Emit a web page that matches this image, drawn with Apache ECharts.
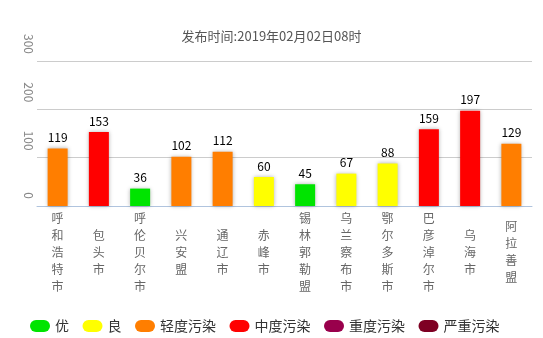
<!DOCTYPE html>
<html><head><meta charset="utf-8">
<script src="https://cdn.jsdelivr.net/npm/echarts@6/dist/echarts.min.js"></script>
<style>html,body{margin:0;padding:0;background:#fff}#c{width:543px;height:338px}</style>
</head><body><div id="c"></div>
<script>
const titleText = '发布时间:2019年02月02日08时';
const categories = ['呼和浩特市','包头市','呼伦贝尔市','兴安盟','通辽市','赤峰市','锡林郭勒盟','乌兰察布市','鄂尔多斯市','巴彦淖尔市','乌海市','阿拉善盟'];
const values = [119,153,36,102,112,60,45,67,88,159,197,129];
const levels = ['轻度污染','中度污染','优','轻度污染','轻度污染','良','优','良','良','中度污染','中度污染','轻度污染'];
const levelNames = ['优','良','轻度污染','中度污染','重度污染','严重污染'];
const levelColors = ['#00e400','#ffff00','#ff7e00','#ff0000','#99004c','#7e0023'];
const yTicks = [0,100,200,300];

const FONT = '"Noto Sans CJK SC", "Noto Sans", sans-serif';
const series = levelNames.map((name, k) => ({
  name: name,
  type: 'bar',
  stack: 'aqi',
  barWidth: 20,
  data: values.map((v, i) => levels[i] === name ? v : '-'),
  itemStyle: {color: levelColors[k], shadowColor: 'rgba(0,0,0,0.3)', shadowBlur: 4},
  label: {show: true, position: 'top', distance: 5, color: '#000', fontSize: 12, fontFamily: FONT}
}));

const chart = echarts.init(document.getElementById('c'));
chart.setOption({
  animation: false,
  title: {text: titleText, left: 'center', top: 25, textStyle: {fontSize: 13, fontWeight: 'normal', color: '#555', fontFamily: FONT}},
  grid: {left: 37, right: 11, top: 61, bottom: 132},
  legend: {
    bottom: 0, left: 25, itemWidth: 20, itemHeight: 12, itemGap: 13.5,
    icon: 'path://M6,0 H14 A6,6 0 0 1 14,12 H6 A6,6 0 0 1 6,0 Z',
    textStyle: {fontSize: 14, color: '#333', fontFamily: FONT},
    data: levelNames
  },
  xAxis: {
    type: 'category', data: categories,
    axisLine: {lineStyle: {color: '#b0c4de'}},
    axisTick: {length: 5, lineStyle: {color: '#b0c4de'}},
    axisLabel: {interval: 0, color: '#666', fontSize: 12, fontFamily: FONT, lineHeight: 17, margin: 46, verticalAlign: 'middle',
      formatter: v => v.split('').join('\n')}
  },
  yAxis: {
    type: 'value', min: yTicks[0], max: yTicks[yTicks.length-1], interval: 100,
    axisLine: {show: false}, axisTick: {show: false},
    splitLine: {lineStyle: {color: '#ccc'}},
    axisLabel: {rotate: -90, align: 'right', verticalAlign: 'middle', padding: [0, 7, 0, 0],
      color: '#888', fontSize: 12, fontFamily: FONT, margin: 8}
  },
  series: series
});
</script></body></html>
